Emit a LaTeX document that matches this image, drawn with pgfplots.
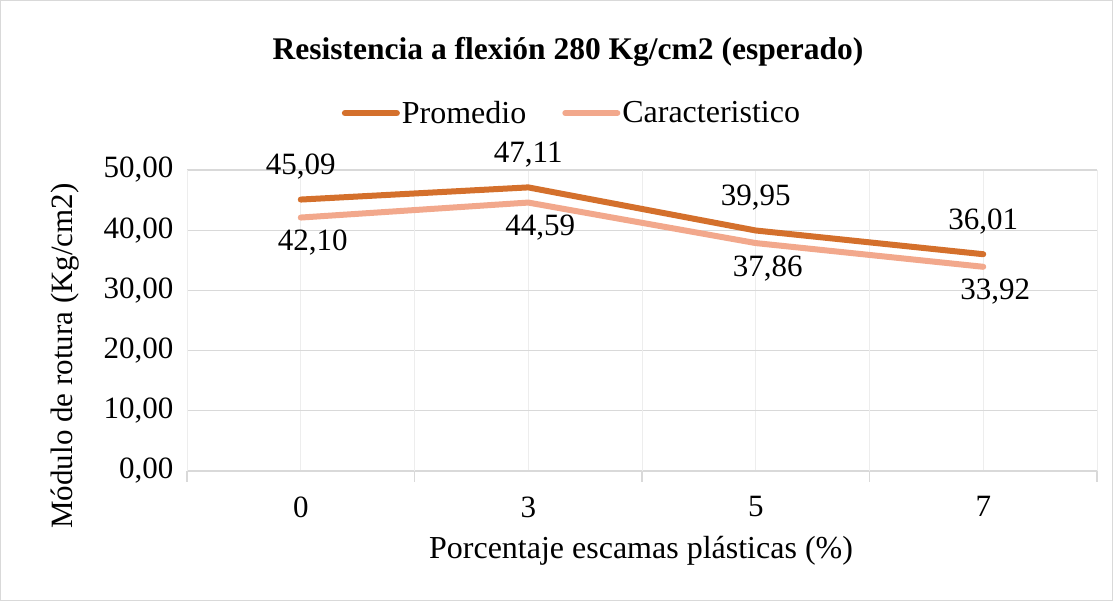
\documentclass[border=0pt]{standalone}
\usepackage{pgfplots}
\pgfplotsset{compat=1.18}
\usepackage{fontspec}
\setmainfont{Liberation Serif}
\definecolor{prom}{HTML}{D4702C}
\definecolor{carac}{HTML}{F2A88C}
\definecolor{gridc}{HTML}{D9D9D9}
\definecolor{gridl}{HTML}{EDEDED}
\begin{document}
\begin{tikzpicture}[x=1pt,y=1pt]
\fill[white] (0,0) rectangle (1113,601);
\draw[gridc, line width=1pt] (0.5,0.5) rectangle (1112.5,600.5);
\begin{axis}[
    at={(187pt,130pt)}, anchor=south west,
    width=910pt, height=301pt, scale only axis,
    xmin=-0.5, xmax=3.5, ymin=0, ymax=50,
    clip=false,
    axis line style={draw=none},
    xtick={0,1,2,3}, xticklabels={0,3,5,7},
    ytick={0,10,20,30,40,50},
    major tick length=0pt,
    xmajorgrids, ymajorgrids,
    x grid style={gridl, line width=1pt},
    y grid style={gridc, line width=1.2pt},
    extra x ticks={-0.5,0.5,1.5,2.5,3.5},
    extra x tick labels={},
    extra x tick style={grid=major, major grid style={gridc, line width=1.2pt},
        major tick length=11pt, tick pos=bottom, tick align=outside,
        tick style={gridc, line width=1.2pt}},
    tick label style={font=\fontsize{31}{34}\selectfont},
    /pgf/number format/assume math mode=true,
    yticklabel style={/pgf/number format/fixed, /pgf/number format/fixed zerofill,
        /pgf/number format/precision=2, /pgf/number format/use comma, xshift=-10pt},
    xticklabel style={yshift=-22pt},
    every node near coord/.append style={font=\fontsize{31}{34}\selectfont, black},
    nodes near coords={\pgfmathprintnumber[fixed, fixed zerofill, precision=2, use comma]{\pgfplotspointmeta}},
    legend columns=2,
    legend style={at={(0.423,1.189)}, anchor=center, draw=none, fill=none,
        font=\fontsize{32}{35}\selectfont,
        /tikz/every even column/.append style={column sep=34pt},
        inner sep=0pt},
    legend image code/.code={\draw[#1, line width=6pt, line cap=round] (0pt,0pt) -- (52pt,0pt);},
]
\addplot[prom, line width=6pt, line cap=round, line join=round,
    every node near coord/.append style={anchor=south, yshift=14pt}]
    coordinates {(0,45.09) (1,47.11) (2,39.95) (3,36.01)};
\addlegendentry{Promedio}
\addplot[carac, line width=6pt, line cap=round, line join=round,
    every node near coord/.append style={anchor=north, yshift=-6pt, xshift=12pt}]
    coordinates {(0,42.10) (1,44.59) (2,37.86) (3,33.92)};
\addlegendentry{Caracteristico}
\end{axis}
\node[font=\fontsize{31.5}{34}\selectfont\bfseries] at (568,549) {Resistencia a flexión 280 Kg/cm2 (esperado)};
\node[font=\fontsize{32}{35}\selectfont] at (641,50) {Porcentaje escamas plásticas (\%)};
\node[font=\fontsize{31}{34}\selectfont, rotate=90] at (65,245) {Módulo de rotura (Kg/cm2)};
\end{tikzpicture}
\end{document}
